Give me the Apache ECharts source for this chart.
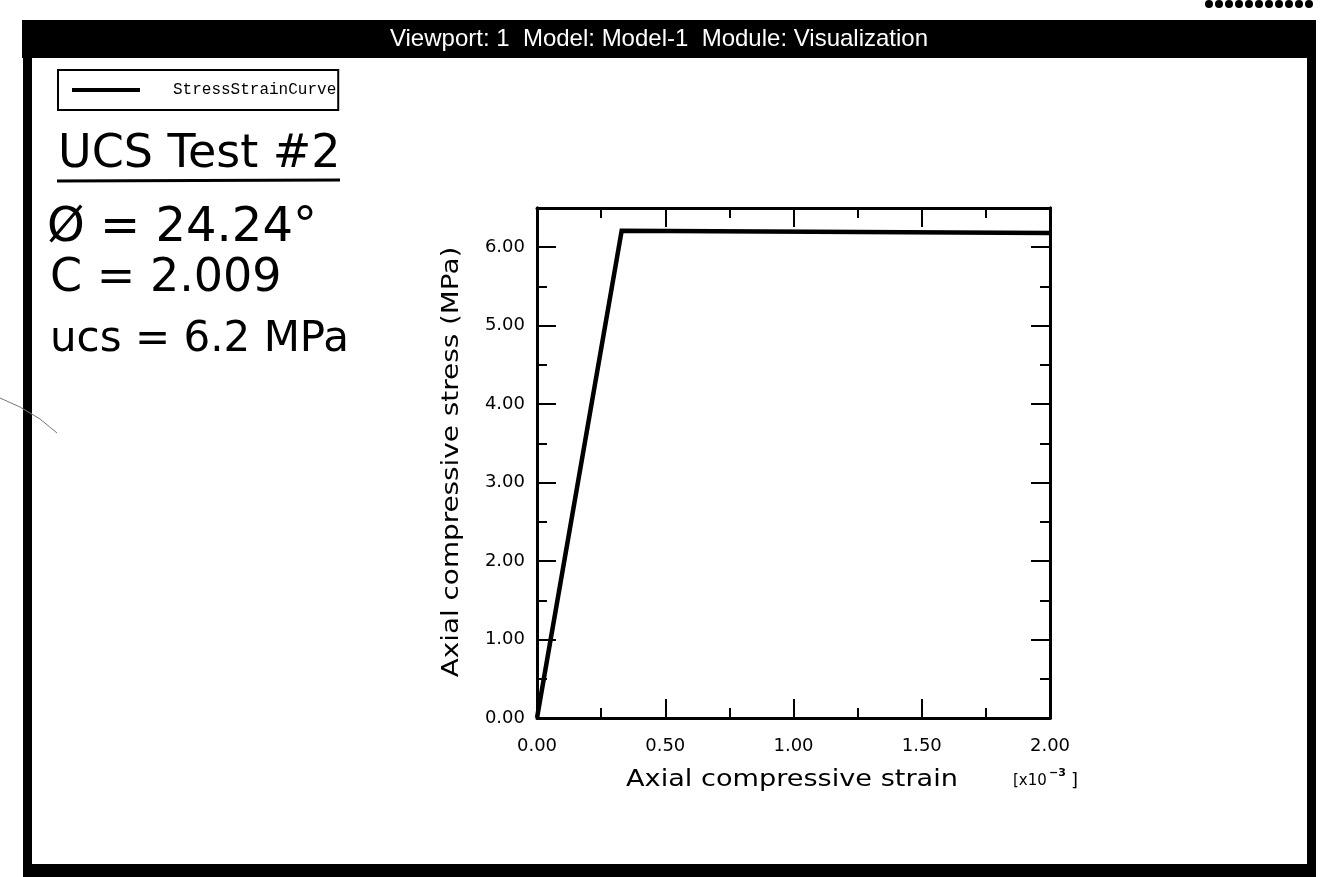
<!DOCTYPE html>
<html>
<head>
<meta charset="utf-8">
<title>UCS Test #2 - Stress/Strain</title>
<script src="https://cdn.jsdelivr.net/npm/echarts@6/dist/echarts.min.js"></script>
<style>
  html, body { margin: 0; padding: 0; background: #fff; }
  #chart { width: 1321px; height: 877px; }
</style>
</head>
<body>
<div id="chart"></div>
<script>
// Axial strain (x10^-3) and axial compressive stress (MPa) of the curve
const strain = [0.00, 0.33, 2.00];
const stress = [0.00, 6.21, 6.18];

// Axis ranges and tick spacing
const xTicks = { min: 0, max: 2, major: 0.5 };
const yTicks = { min: 0, max: 6.5, major: 1, minor: 0.5 };

// Text blocks
const viewportTitle = 'Viewport: 1  Model: Model-1  Module: Visualization';
const seriesName = 'StressStrainCurve';
const notes = ['UCS Test #2', '\u00D8 = 24.24\u00B0', 'C = 2.009', 'ucs = 6.2 MPa'];
const xTitle = 'Axial compressive strain';
const yTitle = 'Axial compressive stress (MPa)';

const chart = echarts.init(document.getElementById('chart'), null, { renderer: 'canvas' });

const tickFont = { fontFamily: 'DejaVu Sans', fontSize: 18, color: '#000' };
const fmt = v => v.toFixed(2);

function xAxisDef(pos, withLabels) {
  return {
    type: 'value', position: pos,
    min: xTicks.min, max: xTicks.max, interval: xTicks.major,
    axisLine: { show: true, onZero: false, lineStyle: { color: '#000', width: 3 } },
    axisTick: { show: true, inside: true, length: 19, lineStyle: { color: '#000', width: 2 } },
    minorTick: { show: true, splitNumber: 2, length: 10, lineStyle: { color: '#000', width: 2 } },
    axisLabel: withLabels ? Object.assign({ show: true, margin: 19, formatter: fmt }, tickFont) : { show: false },
    splitLine: { show: false }, minorSplitLine: { show: false }
  };
}
function yAxisDef(pos, step, len, withLabels) {
  return {
    type: 'value', position: pos,
    min: yTicks.min, max: yTicks.max, interval: step,
    axisLine: { show: true, onZero: false, lineStyle: { color: '#000', width: 3 } },
    axisTick: { show: true, inside: true, length: len, lineStyle: { color: '#000', width: 2 } },
    axisLabel: withLabels ? Object.assign({ show: true, margin: 12, formatter: fmt, showMaxLabel: false }, tickFont) : { show: false },
    splitLine: { show: false }
  };
}

// Decorative dots along the top edge of the sheet
const dots = [];
for (let i = 0; i < 11; i++) {
  dots.push({ type: 'circle', shape: { cx: 1209 + i * 10, cy: 4, r: 4 }, style: { fill: '#000' }, silent: true });
}

const option = {
  backgroundColor: '#fff',
  animation: false,
  grid: { left: 537, right: 271, top: 208, bottom: 159, containLabel: false },
  legend: {
    left: 58, top: 70,
    padding: [12, 2, 12, 14],
    borderColor: '#000', borderWidth: 2, borderRadius: 0,
    icon: 'rect', itemWidth: 68, itemHeight: 4,
    textStyle: { fontFamily: 'Liberation Mono', fontSize: 16, color: '#000', padding: [0, 0, 0, 28] },
    data: [seriesName]
  },
  xAxis: [xAxisDef('bottom', true), xAxisDef('top', false)],
  yAxis: [
    yAxisDef('left', yTicks.major, 19, true),
    yAxisDef('left', yTicks.minor, 10, false),
    yAxisDef('right', yTicks.major, 19, false),
    yAxisDef('right', yTicks.minor, 10, false)
  ],
  series: [{
    name: seriesName, type: 'line',
    xAxisIndex: 0, yAxisIndex: 0,
    data: strain.map((x, i) => [x, stress[i]]),
    showSymbol: false, symbol: 'none',
    lineStyle: { color: '#000', width: 4.5, join: 'miter' },
    itemStyle: { color: '#000' },
    z: 5
  }],
  graphic: [
    // Viewport frame
    { type: 'rect', shape: { x: 22, y: 20, width: 1294, height: 38 }, style: { fill: '#000' }, silent: true },
    { type: 'rect', shape: { x: 23, y: 20, width: 9, height: 857 }, style: { fill: '#000' }, silent: true },
    { type: 'rect', shape: { x: 1307, y: 20, width: 9, height: 857 }, style: { fill: '#000' }, silent: true },
    { type: 'rect', shape: { x: 23, y: 864, width: 1293, height: 13 }, style: { fill: '#000' }, silent: true },
    { type: 'text', x: 659, y: 39, silent: true,
      style: { text: viewportTitle, fill: '#fff', font: '24px "Liberation Sans Narrow", "Liberation Sans", sans-serif',
               textAlign: 'center', textVerticalAlign: 'middle' } },
    ...dots,
    // Faint stray mark at the left edge
    { type: 'polyline', shape: { points: [[0, 398], [20, 407], [40, 419], [57, 433]] },
      style: { stroke: '#777', lineWidth: 1, fill: null }, silent: true },

    // Annotation notes
    { type: 'text', x: 58, y: 155, silent: true,
      style: { text: notes[0], fill: '#000', font: '46px "DejaVu Sans"', textVerticalAlign: 'middle' } },
    { type: 'line', shape: { x1: 57, y1: 181, x2: 340, y2: 180 }, style: { stroke: '#000', lineWidth: 3 }, silent: true },
    { type: 'text', x: 47, y: 229, silent: true,
      style: { text: notes[1], fill: '#000', font: '48px "DejaVu Sans"', textVerticalAlign: 'middle' } },
    { type: 'text', x: 50, y: 279, silent: true,
      style: { text: notes[2], fill: '#000', font: '46px "DejaVu Sans"', textVerticalAlign: 'middle' } },
    { type: 'text', x: 50, y: 340, silent: true,
      style: { text: notes[3], fill: '#000', font: '42px "DejaVu Sans"', textVerticalAlign: 'middle' } },

    // Axis titles
    { type: 'text', x: 792, y: 780, scaleX: 1.18, silent: true,
      style: { text: xTitle, fill: '#000', font: '23px "DejaVu Sans"', textAlign: 'center', textVerticalAlign: 'middle' } },
    { type: 'text', x: 1013, y: 781, silent: true,
      style: { text: '[x10', fill: '#000', font: '15px "DejaVu Sans"', textVerticalAlign: 'middle' } },
    { type: 'text', x: 1049, y: 773, silent: true,
      style: { text: '\u22123', fill: '#000', font: 'bold 11px "DejaVu Sans"', textVerticalAlign: 'middle' } },
    { type: 'text', x: 1071, y: 781, silent: true,
      style: { text: ']', fill: '#000', font: '18px "DejaVu Sans"', textVerticalAlign: 'middle' } },
    { type: 'text', x: 452, y: 462, rotation: Math.PI / 2, scaleX: 1.21, silent: true,
      style: { text: yTitle, fill: '#000', font: '23px "DejaVu Sans"', textAlign: 'center', textVerticalAlign: 'middle' } }
  ]
};

chart.setOption(option);
</script>
</body>
</html>
